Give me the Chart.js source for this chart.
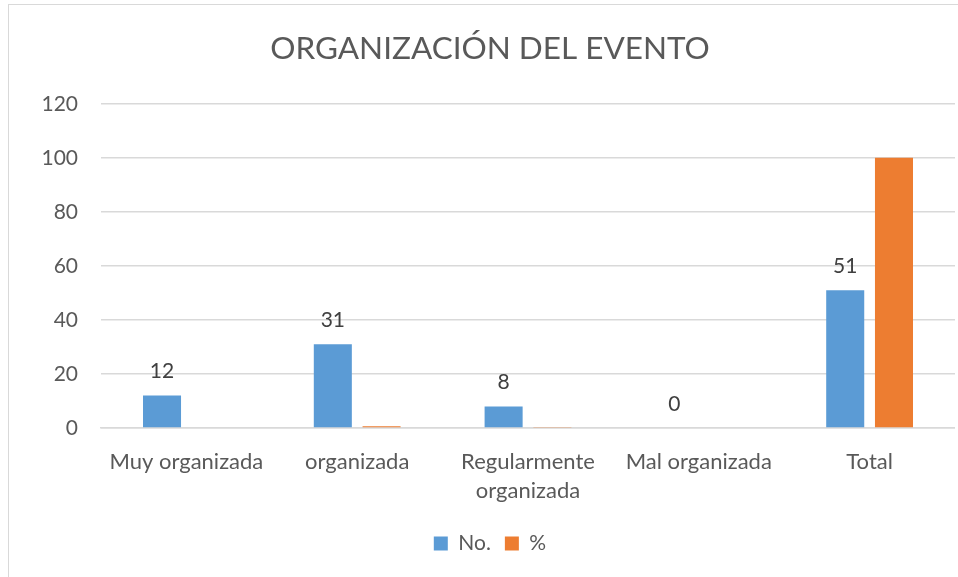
<!DOCTYPE html>
<html>
<head>
<meta charset="utf-8">
<script src="https://cdn.jsdelivr.net/npm/chart.js@4.4.0/dist/chart.umd.min.js"></script>
<style>
  html, body { margin: 0; padding: 0; background: #fff; overflow: hidden; }
  #box {
    position: absolute; left: 8px; top: 4px;
    width: 964px; height: 573px;
    border-left: 1px solid #d9d9d9; border-top: 1px solid #d9d9d9;
  }
  #chart { display: block; }
</style>
</head>
<body>
<div id="box"><canvas id="chart" width="946" height="573"></canvas></div>
<script>
// Datos del gráfico
const categorias = ['Muy organizada', 'organizada', ['Regularmente', 'organizada'], 'Mal organizada', 'Total'];
const numero = [12, 31, 8, 0, 51];
const porcentaje = [0.24, 0.61, 0.16, 0, 100];
const ejeY = [0, 20, 40, 60, 80, 100, 120];

const textColor = '#595959';
const fontFamily = 'Lato, "Open Sans", sans-serif';

// Etiquetas de valor sobre las barras de "No."
const valueLabels = {
    id: 'valueLabels',
    afterDatasetsDraw(chart) {
        const ctx = chart.ctx;
        const meta = chart.getDatasetMeta(0);
        ctx.save();
        ctx.font = '21px ' + fontFamily;
        ctx.fillStyle = '#404040';
        ctx.textAlign = 'center';
        ctx.textBaseline = 'middle';
        meta.data.forEach((bar, i) => {
            ctx.fillText(String(numero[i]), bar.x, bar.y - 24);
        });
        ctx.restore();
    }
};

new Chart(document.getElementById('chart').getContext('2d'), {
    type: 'bar',
    data: {
        labels: categorias,
        datasets: [{
            label: 'No.',
            data: numero,
            backgroundColor: '#5B9BD5',
            categoryPercentage: 0.571,
            barPercentage: 0.78
        }, {
            label: '%',
            data: porcentaje,
            backgroundColor: '#ED7D31',
            categoryPercentage: 0.571,
            barPercentage: 0.78
        }]
    },
    options: {
        responsive: false,
        animation: false,
        layout: { padding: { left: 16, right: 0, top: 0, bottom: 14 } },
        plugins: {
            title: {
                display: true,
                text: 'ORGANIZACIÓN DEL EVENTO',
                color: textColor,
                font: { family: fontFamily, size: 31.5, weight: 'normal', lineHeight: 1.2 },
                padding: { top: 25, bottom: 36 }
            },
            legend: {
                position: 'bottom',
                labels: {
                    color: textColor,
                    font: { family: fontFamily, size: 21 },
                    boxWidth: 14,
                    boxHeight: 14,
                    padding: 14
                }
            },
            tooltip: { enabled: false }
        },
        scales: {
            x: {
                grid: { display: false },
                border: { color: '#d9d9d9', width: 1.5 },
                ticks: {
                    color: textColor,
                    font: { family: fontFamily, size: 22, lineHeight: 1.3 },
                    padding: 12,
                    maxRotation: 0,
                    autoSkip: false
                },
                afterFit(scale) { scale.height = 91; }
            },
            y: {
                min: ejeY[0],
                max: ejeY[ejeY.length - 1],
                afterBuildTicks(scale) { scale.ticks = ejeY.map(v => ({ value: v })); },
                grid: { color: '#d9d9d9', lineWidth: 1.5, drawTicks: false },
                border: { display: false },
                ticks: {
                    color: textColor,
                    font: { family: fontFamily, size: 21 },
                    padding: 23
                },
                afterFit(scale) { scale.width = 76; }
            }
        }
    },
    plugins: [valueLabels]
});
</script>
</body>
</html>
